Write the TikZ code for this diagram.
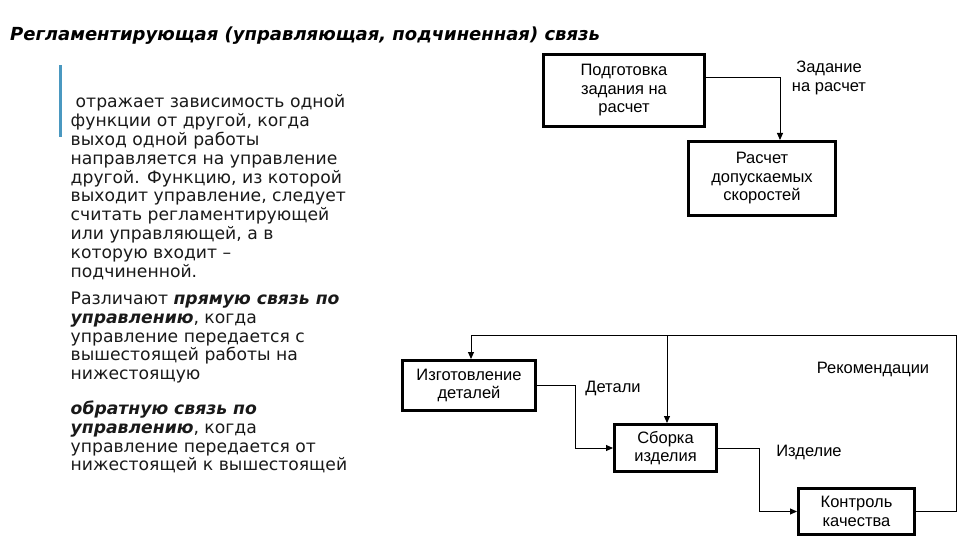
\documentclass[tikz,border=0pt]{standalone}
\usepackage{fontspec}
\setmainfont{DejaVu Sans}
\newfontfamily\boxfont{Liberation Sans}
\usetikzlibrary{arrows.meta,positioning}
\definecolor{barblue}{RGB}{74,152,192}
\definecolor{textgrey}{RGB}{25,25,25}

\begin{document}
\begin{tikzpicture}[x=1pt,y=-1pt,
  fn/.style={draw,line width=3pt,inner sep=0pt,align=center,
             font=\boxfont\fontsize{16.5}{18.5}\selectfont},
  lbl/.style={align=center,inner sep=0pt,
              font=\boxfont\fontsize{16.5}{18.5}\selectfont},
  link/.style={line width=1pt,-{Triangle[length=7pt,width=6pt]}},
  txt/.style={anchor=base west,inner sep=0pt,text=textgrey,
              font=\fontsize{17.2}{18.8}\selectfont}]
  \useasboundingbox (0,0) rectangle (960,540);
  % title and left column
  \node[anchor=base west,inner sep=0pt,font=\bfseries\itshape\fontsize{18}{21}\selectfont]
    (title) at (10,41) {Регламентирующая (управляющая, подчиненная) связь};
  \fill[barblue] (59,65) rectangle (62,137);
  \foreach \y/\t [count=\i] in {
      107.8/{\hspace{5pt}отражает зависимость одной},
      126.6/{функции от другой, когда},
      145.4/{выход одной работы},
      164.2/{направляется на управление},
      183.0/{другой. Функцию, из которой},
      201.8/{выходит управление, следует},
      220.6/{считать регламентирующей},
      239.4/{или управляющей, а в},
      258.2/{которую входит –},
      277.0/{подчиненной.},
      304.5/{Различают \textbf{\textit{прямую связь по}}},
      323.3/{\textbf{\textit{управлению}}, когда},
      342.1/{управление передается с},
      360.9/{вышестоящей работы на},
      379.7/{нижестоящую},
      414.5/{\textbf{\textit{обратную связь по}}},
      433.3/{\textbf{\textit{управлению}}, когда},
      452.1/{управление передается от},
      470.9/{нижестоящей к вышестоящей}}
    \node[txt] (line\i) at (70.5,\y) {\t};
  % upper pair
  \node[fn,minimum width=161pt,minimum height=72pt] (prep) at (624,90.5)
    {Подготовка\\задания на\\расчет};
  \node[fn,minimum width=147pt,minimum height=74pt] (calc) at (762,178.5)
    {Расчет\\допускаемых\\скоростей};
  \draw[link] ([yshift=12.5pt]prep.east) -| ([xshift=18pt]calc.north);
  \node[lbl] (task) at (829,78) {Задание\\на расчет};
  % lower chain
  \node[fn,minimum width=133pt,minimum height=50pt] (make) at (469,385.5)
    {Изготовление\\деталей};
  \node[fn,minimum width=102pt,minimum height=47pt] (asm) at (665.5,448)
    {Сборка\\изделия};
  \node[fn,minimum width=116pt,minimum height=46pt] (qc) at (856.5,511.5)
    {Контроль\\качества};
  \draw[link] (make.east) -- ++(38,0) |- (asm.west);
  \draw[link] (asm.east) -- ++(41,0) |- (qc.west);
  \coordinate (loop) at (956,335);
  \draw[link] (qc.east) -| (loop) -| ([xshift=2pt]make.north);
  \draw[link] ([xshift=1.5pt]asm.north |- loop) -- ([xshift=1.5pt]asm.north);
  \node[lbl] (parts) at (613,388) {Детали};
  \node[lbl] (item) at (809,452) {Изделие};
  \node[lbl] (recs) at (873,369) {Рекомендации};
\end{tikzpicture}
\end{document}
